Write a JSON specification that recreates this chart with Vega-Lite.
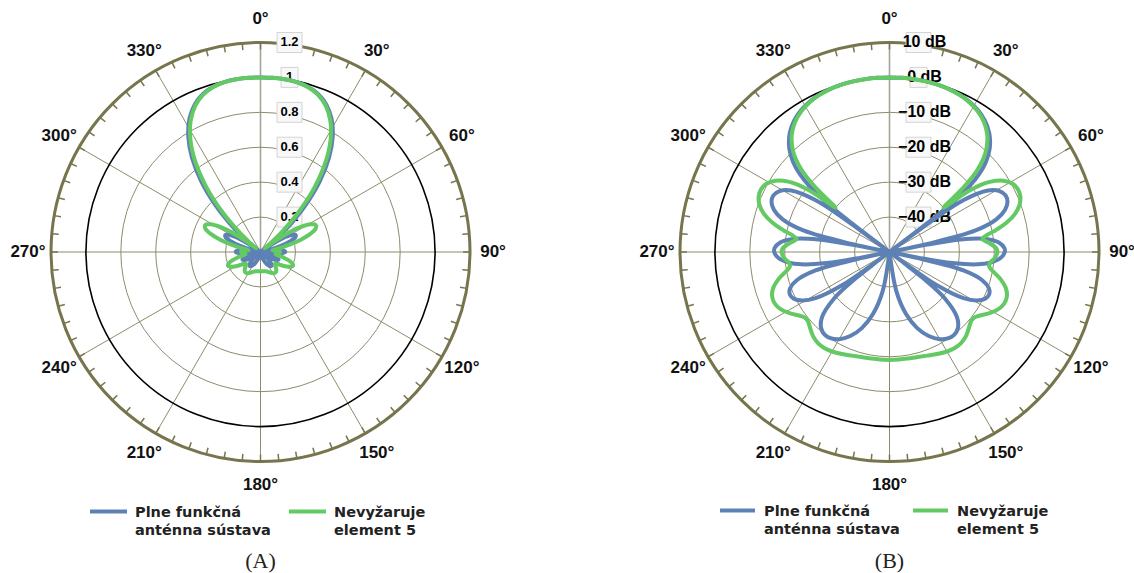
{
"$schema": "https://vega.github.io/schema/vega-lite/v6.json",
"padding": 0,
"spacing": 0,
"bounds": "flush",
"background": "white",
"config": {"view": {"stroke": null}},
"resolve": {"scale": {"color": "independent"}, "legend": {"color": "independent"}},
"datasets": {
"pat": [
{"a":0,"P":1,"N":1},{"a":4,"P":0.9999,"N":0.9999},{"a":8,"P":0.999,"N":0.9989},{"a":12,"P":0.9951,"N":0.9946},{"a":16,"P":0.9848,"N":0.9832},{"a":20,"P":0.9634,"N":0.9595},{"a":24,"P":0.9256,"N":0.9177},{"a":28,"P":0.8662,"N":0.8519},{"a":32,"P":0.7808,"N":0.7574},{"a":36,"P":0.6675,"N":0.632},{"a":40,"P":0.5279,"N":0.4778},{"a":44,"P":0.3686,"N":0.3021},{"a":47,"P":0.2429,"N":0.1645},{"a":49,"P":0.1597,"N":0.0764},{"a":50.6,"P":0.0952,"N":0.0315},{"a":52,"P":0.0413,"N":0.0687},{"a":52.63,"P":0.0177,"N":0.0926},{"a":53.13,"P":0,"N":0.1111},{"a":53.63,"P":0.0177,"N":0.13},{"a":55,"P":0.0627,"N":0.1784},{"a":58,"P":0.1449,"N":0.2677},{"a":61,"P":0.1997,"N":0.327},{"a":64,"P":0.2237,"N":0.3522},{"a":67,"P":0.2166,"N":0.3431},{"a":70,"P":0.1818,"N":0.3036},{"a":73,"P":0.1258,"N":0.2414},{"a":76,"P":0.0577,"N":0.168},{"a":77.96,"P":0.0114,"N":0.1216},{"a":78.46,"P":0,"N":0.1111},{"a":78.96,"P":0.0114,"N":0.1011},{"a":80,"P":0.034,"N":0.0842},{"a":82,"P":0.0735,"N":0.0697},{"a":85,"P":0.1179,"N":0.087},{"a":88,"P":0.14,"N":0.107},{"a":90,"P":0.1414,"N":0.1111},{"a":93,"P":0.1246,"N":0.1033},{"a":96,"P":0.0894,"N":0.0891},{"a":98,"P":0.0589,"N":0.0868},{"a":100,"P":0.0258,"N":0.0965},{"a":101.04,"P":0.0083,"N":0.106},{"a":101.54,"P":0,"N":0.1111},{"a":102.04,"P":0.0083,"N":0.1168},{"a":104,"P":0.0391,"N":0.1401},{"a":107,"P":0.0781,"N":0.1734},{"a":110,"P":0.1033,"N":0.1953},{"a":113,"P":0.1124,"N":0.2018},{"a":116,"P":0.1056,"N":0.193},{"a":119,"P":0.0855,"N":0.1723},{"a":122,"P":0.0561,"N":0.1457},{"a":125,"P":0.0218,"N":0.1213},{"a":126.37,"P":0.0058,"N":0.1133},{"a":126.87,"P":0,"N":0.1111},{"a":127.37,"P":0.0058,"N":0.1093},{"a":128,"P":0.0128,"N":0.1077},{"a":130,"P":0.0343,"N":0.107},{"a":134,"P":0.0697,"N":0.1194},{"a":138,"P":0.0921,"N":0.1351},{"a":142,"P":0.101,"N":0.1442},{"a":146,"P":0.0983,"N":0.145},{"a":150,"P":0.0873,"N":0.1397},{"a":155,"P":0.0673,"N":0.1293},{"a":160,"P":0.0457,"N":0.1199},{"a":165,"P":0.0265,"N":0.1142},{"a":170,"P":0.0119,"N":0.1117},{"a":175,"P":0.003,"N":0.1112},{"a":180,"P":0,"N":0.1111},
{"a":185,"P":0.003,"N":0.1112},{"a":190,"P":0.0119,"N":0.1117},{"a":195,"P":0.0265,"N":0.1142},{"a":200,"P":0.0457,"N":0.1199},{"a":205,"P":0.0673,"N":0.1293},{"a":210,"P":0.0873,"N":0.1397},{"a":214,"P":0.0983,"N":0.145},{"a":218,"P":0.101,"N":0.1442},{"a":222,"P":0.0921,"N":0.1351},{"a":226,"P":0.0697,"N":0.1194},{"a":230,"P":0.0343,"N":0.107},{"a":232,"P":0.0128,"N":0.1077},{"a":232.63,"P":0.0058,"N":0.1093},{"a":233.13,"P":0,"N":0.1111},{"a":233.63,"P":0.0058,"N":0.1133},{"a":235,"P":0.0218,"N":0.1213},{"a":238,"P":0.0561,"N":0.1457},{"a":241,"P":0.0855,"N":0.1723},{"a":244,"P":0.1056,"N":0.193},{"a":247,"P":0.1124,"N":0.2018},{"a":250,"P":0.1033,"N":0.1953},{"a":253,"P":0.0781,"N":0.1734},{"a":256,"P":0.0391,"N":0.1401},{"a":257.96,"P":0.0083,"N":0.1168},{"a":258.46,"P":0,"N":0.1111},{"a":258.96,"P":0.0083,"N":0.106},{"a":260,"P":0.0258,"N":0.0965},{"a":262,"P":0.0589,"N":0.0868},{"a":264,"P":0.0894,"N":0.0891},{"a":267,"P":0.1246,"N":0.1033},{"a":270,"P":0.1414,"N":0.1111},{"a":272,"P":0.14,"N":0.107},{"a":275,"P":0.1179,"N":0.087},{"a":278,"P":0.0735,"N":0.0697},{"a":280,"P":0.034,"N":0.0842},{"a":281.04,"P":0.0114,"N":0.1011},{"a":281.54,"P":0,"N":0.1111},{"a":282.04,"P":0.0114,"N":0.1216},{"a":284,"P":0.0577,"N":0.168},{"a":287,"P":0.1258,"N":0.2414},{"a":290,"P":0.1818,"N":0.3036},{"a":293,"P":0.2166,"N":0.3431},{"a":296,"P":0.2237,"N":0.3522},{"a":299,"P":0.1997,"N":0.327},{"a":302,"P":0.1449,"N":0.2677},{"a":305,"P":0.0627,"N":0.1784},{"a":306.37,"P":0.0177,"N":0.13},{"a":306.87,"P":0,"N":0.1111},{"a":307.37,"P":0.0177,"N":0.0926},{"a":308,"P":0.0413,"N":0.0687},{"a":309.4,"P":0.0952,"N":0.0315},{"a":311,"P":0.1597,"N":0.0764},{"a":313,"P":0.2429,"N":0.1645},{"a":316,"P":0.3686,"N":0.3021},{"a":320,"P":0.5279,"N":0.4778},{"a":324,"P":0.6675,"N":0.632},{"a":328,"P":0.7808,"N":0.7574},{"a":332,"P":0.8662,"N":0.8519},{"a":336,"P":0.9256,"N":0.9177},{"a":340,"P":0.9634,"N":0.9595},{"a":344,"P":0.9848,"N":0.9832},{"a":348,"P":0.9951,"N":0.9946},{"a":352,"P":0.999,"N":0.9989},{"a":356,"P":0.9999,"N":0.9999},{"a":360,"P":1,"N":1}
],
"spokes": [{"a":0},{"a":30},{"a":60},{"a":90},{"a":120},{"a":150},{"a":180},{"a":210},{"a":240},{"a":270},{"a":300},{"a":330}],
"ticks": [{"a":0},{"a":5},{"a":10},{"a":15},{"a":20},{"a":25},{"a":30},{"a":35},{"a":40},{"a":45},{"a":50},{"a":55},{"a":60},{"a":65},{"a":70},{"a":75},{"a":80},{"a":85},{"a":90},{"a":95},{"a":100},{"a":105},{"a":110},{"a":115},{"a":120},{"a":125},{"a":130},{"a":135},{"a":140},{"a":145},{"a":150},{"a":155},{"a":160},{"a":165},{"a":170},{"a":175},{"a":180},{"a":185},{"a":190},{"a":195},{"a":200},{"a":205},{"a":210},{"a":215},{"a":220},{"a":225},{"a":230},{"a":235},{"a":240},{"a":245},{"a":250},{"a":255},{"a":260},{"a":265},{"a":270},{"a":275},{"a":280},{"a":285},{"a":290},{"a":295},{"a":300},{"a":305},{"a":310},{"a":315},{"a":320},{"a":325},{"a":330},{"a":335},{"a":340},{"a":345},{"a":350},{"a":355}],
"alab": [{"a":0,"t":"0°"},{"a":30,"t":"30°"},{"a":60,"t":"60°"},{"a":90,"t":"90°"},{"a":120,"t":"120°"},{"a":150,"t":"150°"},{"a":180,"t":"180°"},{"a":210,"t":"210°"},{"a":240,"t":"240°"},{"a":270,"t":"270°"},{"a":300,"t":"300°"},{"a":330,"t":"330°"}],
"gridA": [{"v":0.2},{"v":0.4},{"v":0.6},{"v":0.8},{"v":1},{"v":1.2}],
"gridB": [{"v":-40},{"v":-30},{"v":-20},{"v":-10},{"v":0},{"v":10}],
"labA": [{"v":1.2,"t":"1.2"},{"v":1,"t":"1"},{"v":0.8,"t":"0.8"},{"v":0.6,"t":"0.6"},{"v":0.4,"t":"0.4"},{"v":0.2,"t":"0.2"}],
"labB": [{"v":10,"t":"10 dB"},{"v":0,"t":"0 dB"},{"v":-10,"t":"−10 dB"},{"v":-20,"t":"−20 dB"},{"v":-30,"t":"−30 dB"},{"v":-40,"t":"−40 dB"}]
},
"hconcat": [
{
"width": 567, "height": 573,
"title": {"text": "(A)", "orient": "bottom", "frame": "group", "anchor": "middle", "dx": -23, "offset": -22, "font": "Liberation Serif", "fontSize": 22, "fontWeight": "normal", "color": "#222222"},
"layer": [
{"data": {"name": "spokes"},
 "transform": [{"calculate": "0", "as": "x1"}, {"calculate": "0", "as": "y1"}, {"calculate": "sin(datum.a*PI/180)", "as": "x2"}, {"calculate": "cos(datum.a*PI/180)", "as": "y2"}],
 "mark": {"type": "rule"},
 "encoding": {
  "x": {"field": "x1", "type": "quantitative", "scale": {"domain": [-1.24344, 1.46301], "nice": false, "zero": false}, "axis": null},
  "y": {"field": "y1", "type": "quantitative", "scale": {"domain": [-1.53222, 1.20286], "nice": false, "zero": false}, "axis": null},
  "x2": {"field": "x2"}, "y2": {"field": "y2"},
  "stroke": {"condition": {"test": "datum.a == 0", "value": "#a4a396"}, "value": "#8d8c6c"},
  "strokeWidth": {"condition": {"test": "datum.a == 0", "value": 1.6}, "value": 1}
 }},
{"data": {"name": "gridA"},
 "transform": [{"calculate": "datum.v/1.2", "as": "rr"}, {"calculate": "0", "as": "x0"}, {"calculate": "0", "as": "y0"}],
 "mark": {"type": "point", "shape": "circle", "filled": false, "opacity": 1},
 "encoding": {
  "x": {"field": "x0", "type": "quantitative", "scale": {"domain": [-1.24344, 1.46301], "nice": false, "zero": false}, "axis": null},
  "y": {"field": "y0", "type": "quantitative", "scale": {"domain": [-1.53222, 1.20286], "nice": false, "zero": false}, "axis": null},
  "size": {"field": "rr", "type": "quantitative", "legend": null, "scale": {"type": "pow", "exponent": 2, "domain": [0, 1], "range": [0, 175561], "zero": true, "nice": false}},
  "stroke": {"condition": [{"test": "datum.v == 1", "value": "#000000"}, {"test": "datum.v == 1.2", "value": "#76754d"}], "value": "#8d8c6c"},
  "strokeWidth": {"condition": [{"test": "datum.v == 1", "value": 1.6}, {"test": "datum.v == 1.2", "value": 3}], "value": 1}
 }},
{"data": {"name": "ticks"},
 "transform": [{"calculate": "0.967*sin(datum.a*PI/180)", "as": "x1"}, {"calculate": "0.967*cos(datum.a*PI/180)", "as": "y1"}, {"calculate": "sin(datum.a*PI/180)", "as": "x2"}, {"calculate": "cos(datum.a*PI/180)", "as": "y2"}],
 "mark": {"type": "rule", "stroke": "#76754d", "strokeWidth": 1.5},
 "encoding": {
  "x": {"field": "x1", "type": "quantitative", "scale": {"domain": [-1.24344, 1.46301], "nice": false, "zero": false}, "axis": null},
  "y": {"field": "y1", "type": "quantitative", "scale": {"domain": [-1.53222, 1.20286], "nice": false, "zero": false}, "axis": null},
  "x2": {"field": "x2"}, "y2": {"field": "y2"}
 }},
{"data": {"name": "labA"},
 "transform": [{"calculate": "datum.v/1.2", "as": "rr"}, {"calculate": "0", "as": "x0"}],
 "mark": {"type": "point", "filled": true, "fill": "#f8f8f8", "stroke": "#d4d4d4", "strokeWidth": 1, "opacity": 1, "size": 4},
 "encoding": {
  "x": {"field": "x0", "type": "quantitative", "scale": {"domain": [-1.24344, 1.46301], "nice": false, "zero": false}, "axis": null},
  "y": {"field": "rr", "type": "quantitative", "scale": {"domain": [-1.53222, 1.20286], "nice": false, "zero": false}, "axis": null},
  "shape": {"field": "t", "type": "nominal", "legend": null, "scale": {"domain": ["1.2", "1", "0.8", "0.6", "0.4", "0.2"], "range": ["M16.5,-10H41.5V10H16.5Z", "M20.5,-10H37.5V10H20.5Z", "M16.5,-10H41.5V10H16.5Z", "M16.5,-10H41.5V10H16.5Z", "M16.5,-10H41.5V10H16.5Z", "M16.5,-10H41.5V10H16.5Z"]}}
 }},
{"data": {"name": "labA"},
 "transform": [{"calculate": "datum.v/1.2", "as": "rr"}, {"calculate": "0", "as": "x0"}],
 "mark": {"type": "text", "dx": 29, "font": "Liberation Sans", "fontSize": 13, "fontWeight": "bold", "align": "center", "baseline": "middle", "color": "#000000"},
 "encoding": {
  "x": {"field": "x0", "type": "quantitative", "scale": {"domain": [-1.24344, 1.46301], "nice": false, "zero": false}, "axis": null},
  "y": {"field": "rr", "type": "quantitative", "scale": {"domain": [-1.53222, 1.20286], "nice": false, "zero": false}, "axis": null},
  "text": {"field": "t"}
 }},
{"data": {"name": "pat"},
 "transform": [{"fold": ["P", "N"], "as": ["s", "v"]}, {"filter": "datum.s == 'P'"}, {"calculate": "datum.v/1.2", "as": "rr"}, {"calculate": "datum.rr*sin(datum.a*PI/180)", "as": "x"}, {"calculate": "datum.rr*cos(datum.a*PI/180)", "as": "y"}],
 "mark": {"type": "line", "strokeWidth": 4, "strokeJoin": "round", "strokeCap": "round", "interpolate": "catmull-rom"},
 "encoding": {
  "x": {"field": "x", "type": "quantitative", "scale": {"domain": [-1.24344, 1.46301], "nice": false, "zero": false}, "axis": null},
  "y": {"field": "y", "type": "quantitative", "scale": {"domain": [-1.53222, 1.20286], "nice": false, "zero": false}, "axis": null},
  "order": {"field": "a", "type": "quantitative"},
  "color": {"field": "s", "type": "nominal", "scale": {"domain": ["P", "N"], "range": ["#5e81b5", "#63c963"]},
   "legend": {"orient": "none", "legendX": 88, "legendY": 491, "direction": "horizontal", "title": null, "symbolType": "stroke", "symbolSize": 1369, "symbolStrokeWidth": 4, "labelFont": "DejaVu Sans", "labelFontWeight": "bold", "labelFontSize": 14.5, "labelColor": "#222222", "labelOffset": 6, "columnPadding": 10, "labelLimit": 400, "labelBaseline": "top", "padding": 0,
    "encode": {"labels": {"update": {"lineHeight": {"value": 18}, "dy": {"value": -6}}}},
    "labelExpr": "datum.label == 'P' ? ['Plne funkčná', 'anténna sústava'] : ['Nevyžaruje', 'element 5']"}}
 }},
{"data": {"name": "pat"},
 "transform": [{"fold": ["P", "N"], "as": ["s", "v"]}, {"filter": "datum.s == 'N'"}, {"calculate": "datum.v/1.2", "as": "rr"}, {"calculate": "datum.rr*sin(datum.a*PI/180)", "as": "x"}, {"calculate": "datum.rr*cos(datum.a*PI/180)", "as": "y"}],
 "mark": {"type": "line", "strokeWidth": 4, "strokeJoin": "round", "strokeCap": "round", "interpolate": "catmull-rom"},
 "encoding": {
  "x": {"field": "x", "type": "quantitative", "scale": {"domain": [-1.24344, 1.46301], "nice": false, "zero": false}, "axis": null},
  "y": {"field": "y", "type": "quantitative", "scale": {"domain": [-1.53222, 1.20286], "nice": false, "zero": false}, "axis": null},
  "order": {"field": "a", "type": "quantitative"},
  "color": {"field": "s", "type": "nominal", "scale": {"domain": ["P", "N"], "range": ["#5e81b5", "#63c963"]}}
 }},
{"data": {"name": "alab"},
 "transform": [{"calculate": "1.11*sin(datum.a*PI/180)", "as": "x"}, {"calculate": "1.11*cos(datum.a*PI/180)", "as": "y"}],
 "mark": {"type": "text", "font": "Liberation Sans", "fontSize": 17, "fontWeight": "bold", "align": "center", "baseline": "middle", "color": "#111111"},
 "encoding": {
  "x": {"field": "x", "type": "quantitative", "scale": {"domain": [-1.24344, 1.46301], "nice": false, "zero": false}, "axis": null},
  "y": {"field": "y", "type": "quantitative", "scale": {"domain": [-1.53222, 1.20286], "nice": false, "zero": false}, "axis": null},
  "text": {"field": "t"}
 }}
]
},
{
"width": 567, "height": 573,
"title": {"text": "(B)", "orient": "bottom", "frame": "group", "anchor": "middle", "dx": 39, "offset": -22, "font": "Liberation Serif", "fontSize": 22, "fontWeight": "normal", "color": "#222222"},
"layer": [
{"data": {"name": "spokes"},
 "transform": [{"calculate": "0", "as": "x1"}, {"calculate": "0", "as": "y1"}, {"calculate": "sin(datum.a*PI/180)", "as": "x2"}, {"calculate": "cos(datum.a*PI/180)", "as": "y2"}],
 "mark": {"type": "rule"},
 "encoding": {
  "x": {"field": "x1", "type": "quantitative", "scale": {"domain": [-1.53938, 1.16706], "nice": false, "zero": false}, "axis": null},
  "y": {"field": "y1", "type": "quantitative", "scale": {"domain": [-1.53222, 1.20286], "nice": false, "zero": false}, "axis": null},
  "x2": {"field": "x2"}, "y2": {"field": "y2"},
  "stroke": {"condition": {"test": "datum.a == 0", "value": "#a4a396"}, "value": "#8d8c6c"},
  "strokeWidth": {"condition": {"test": "datum.a == 0", "value": 1.6}, "value": 1}
 }},
{"data": {"name": "gridB"},
 "transform": [{"calculate": "(datum.v+50)/60", "as": "rr"}, {"calculate": "0", "as": "x0"}, {"calculate": "0", "as": "y0"}],
 "mark": {"type": "point", "shape": "circle", "filled": false, "opacity": 1},
 "encoding": {
  "x": {"field": "x0", "type": "quantitative", "scale": {"domain": [-1.53938, 1.16706], "nice": false, "zero": false}, "axis": null},
  "y": {"field": "y0", "type": "quantitative", "scale": {"domain": [-1.53222, 1.20286], "nice": false, "zero": false}, "axis": null},
  "size": {"field": "rr", "type": "quantitative", "legend": null, "scale": {"type": "pow", "exponent": 2, "domain": [0, 1], "range": [0, 175561], "zero": true, "nice": false}},
  "stroke": {"condition": [{"test": "datum.v == 0", "value": "#000000"}, {"test": "datum.v == 10", "value": "#76754d"}], "value": "#8d8c6c"},
  "strokeWidth": {"condition": [{"test": "datum.v == 0", "value": 1.6}, {"test": "datum.v == 10", "value": 3}], "value": 1}
 }},
{"data": {"name": "ticks"},
 "transform": [{"calculate": "0.967*sin(datum.a*PI/180)", "as": "x1"}, {"calculate": "0.967*cos(datum.a*PI/180)", "as": "y1"}, {"calculate": "sin(datum.a*PI/180)", "as": "x2"}, {"calculate": "cos(datum.a*PI/180)", "as": "y2"}],
 "mark": {"type": "rule", "stroke": "#76754d", "strokeWidth": 1.5},
 "encoding": {
  "x": {"field": "x1", "type": "quantitative", "scale": {"domain": [-1.53938, 1.16706], "nice": false, "zero": false}, "axis": null},
  "y": {"field": "y1", "type": "quantitative", "scale": {"domain": [-1.53222, 1.20286], "nice": false, "zero": false}, "axis": null},
  "x2": {"field": "x2"}, "y2": {"field": "y2"}
 }},
{"data": {"name": "labB"},
 "transform": [{"calculate": "(datum.v+50)/60", "as": "rr"}, {"calculate": "0", "as": "x0"}],
 "mark": {"type": "point", "filled": true, "fill": "#f8f8f8", "stroke": "#d4d4d4", "strokeWidth": 1, "opacity": 1, "size": 4},
 "encoding": {
  "x": {"field": "x0", "type": "quantitative", "scale": {"domain": [-1.53938, 1.16706], "nice": false, "zero": false}, "axis": null},
  "y": {"field": "rr", "type": "quantitative", "scale": {"domain": [-1.53222, 1.20286], "nice": false, "zero": false}, "axis": null},
  "shape": {"field": "t", "type": "nominal", "legend": null, "scale": {"domain": ["10 dB", "0 dB", "−10 dB", "−20 dB", "−30 dB", "−40 dB"], "range": ["M10,-10.5H60V10.5H10Z", "M15,-10.5H55V10.5H15Z", "M6.5,-10.5H63.5V10.5H6.5Z", "M6.5,-10.5H63.5V10.5H6.5Z", "M6.5,-10.5H63.5V10.5H6.5Z", "M6.5,-10.5H63.5V10.5H6.5Z"]}}
 }},
{"data": {"name": "labB"},
 "transform": [{"calculate": "(datum.v+50)/60", "as": "rr"}, {"calculate": "0", "as": "x0"}],
 "mark": {"type": "text", "dx": 35, "font": "Liberation Sans", "fontSize": 16, "fontWeight": "bold", "align": "center", "baseline": "middle", "color": "#000000"},
 "encoding": {
  "x": {"field": "x0", "type": "quantitative", "scale": {"domain": [-1.53938, 1.16706], "nice": false, "zero": false}, "axis": null},
  "y": {"field": "rr", "type": "quantitative", "scale": {"domain": [-1.53222, 1.20286], "nice": false, "zero": false}, "axis": null},
  "text": {"field": "t"}
 }},
{"data": {"name": "pat"},
 "transform": [{"fold": ["P", "N"], "as": ["s", "v"]}, {"filter": "datum.s == 'P'"}, {"calculate": "(max(20*log(datum.v)/LN10, -50)+50)/60", "as": "rr"}, {"calculate": "datum.rr*sin(datum.a*PI/180)", "as": "x"}, {"calculate": "datum.rr*cos(datum.a*PI/180)", "as": "y"}],
 "mark": {"type": "line", "strokeWidth": 4, "strokeJoin": "round", "strokeCap": "round", "interpolate": "catmull-rom"},
 "encoding": {
  "x": {"field": "x", "type": "quantitative", "scale": {"domain": [-1.53938, 1.16706], "nice": false, "zero": false}, "axis": null},
  "y": {"field": "y", "type": "quantitative", "scale": {"domain": [-1.53222, 1.20286], "nice": false, "zero": false}, "axis": null},
  "order": {"field": "a", "type": "quantitative"},
  "color": {"field": "s", "type": "nominal", "scale": {"domain": ["P", "N"], "range": ["#5e81b5", "#63c963"]},
   "legend": {"orient": "none", "legendX": 151, "legendY": 491, "direction": "horizontal", "title": null, "symbolType": "stroke", "symbolSize": 1225, "symbolStrokeWidth": 4, "labelFont": "DejaVu Sans", "labelFontWeight": "bold", "labelFontSize": 14.5, "labelColor": "#222222", "labelOffset": 7, "columnPadding": 5, "labelLimit": 400, "labelBaseline": "top", "padding": 0,
    "encode": {"labels": {"update": {"lineHeight": {"value": 18}, "dy": {"value": -6}}}},
    "labelExpr": "datum.label == 'P' ? ['Plne funkčná', 'anténna sústava'] : ['Nevyžaruje', 'element 5']"}}
 }},
{"data": {"name": "pat"},
 "transform": [{"fold": ["P", "N"], "as": ["s", "v"]}, {"filter": "datum.s == 'N'"}, {"calculate": "(max(20*log(datum.v)/LN10, -50)+50)/60", "as": "rr"}, {"calculate": "datum.rr*sin(datum.a*PI/180)", "as": "x"}, {"calculate": "datum.rr*cos(datum.a*PI/180)", "as": "y"}],
 "mark": {"type": "line", "strokeWidth": 4, "strokeJoin": "round", "strokeCap": "round", "interpolate": "catmull-rom"},
 "encoding": {
  "x": {"field": "x", "type": "quantitative", "scale": {"domain": [-1.53938, 1.16706], "nice": false, "zero": false}, "axis": null},
  "y": {"field": "y", "type": "quantitative", "scale": {"domain": [-1.53222, 1.20286], "nice": false, "zero": false}, "axis": null},
  "order": {"field": "a", "type": "quantitative"},
  "color": {"field": "s", "type": "nominal", "scale": {"domain": ["P", "N"], "range": ["#5e81b5", "#63c963"]}}
 }},
{"data": {"name": "alab"},
 "transform": [{"calculate": "1.11*sin(datum.a*PI/180)", "as": "x"}, {"calculate": "1.11*cos(datum.a*PI/180)", "as": "y"}],
 "mark": {"type": "text", "font": "Liberation Sans", "fontSize": 17, "fontWeight": "bold", "align": "center", "baseline": "middle", "color": "#111111"},
 "encoding": {
  "x": {"field": "x", "type": "quantitative", "scale": {"domain": [-1.53938, 1.16706], "nice": false, "zero": false}, "axis": null},
  "y": {"field": "y", "type": "quantitative", "scale": {"domain": [-1.53222, 1.20286], "nice": false, "zero": false}, "axis": null},
  "text": {"field": "t"}
 }}
]
}
]
}
